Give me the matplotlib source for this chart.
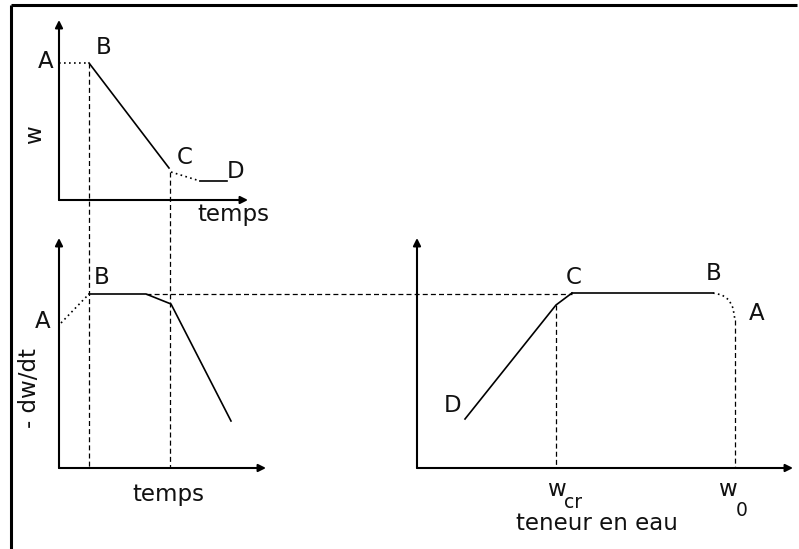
import numpy as np
import matplotlib
matplotlib.use('Agg')
from matplotlib import pyplot as plt

# schematic drying curves, coordinates in image pixels (x right, y down)
# top panel : w = f(temps)
w_AB_x = [59, 89]
w_AB_y = [63, 63]
w_BC_x = [89, 169]
w_BC_y = [63, 168]
w_CD_x = [171, 200]
w_CD_y = [172, 181]
w_D_x = [200, 227]
w_D_y = [181, 181]

# bottom left : -dw/dt = f(temps)
r_AB_x = [61, 89]
r_AB_y = [323, 294]
r_BD_x = [89, 146, 171, 231]
r_BD_y = [294, 294, 304, 421]

# right : -dw/dt = f(teneur en eau)
e_DC_x = [465, 556, 572]
e_DC_y = [419, 305, 293]
e_CB_x = [572, 713]
e_CB_y = [293, 293]
e_BA_x = [713, 722, 729, 733, 735]
e_BA_y = [293, 295, 300, 308, 320]

# dashed guide lines (x0, y0, x1, y1)
guides = [(89, 63, 89, 468), (170, 172, 170, 468), (146, 294, 572, 294),
          (556, 305, 556, 468), (735, 320, 735, 468)]

# axes (origin x, origin y, x tip, y tip)
axes_list = [(59, 200, 248, 20), (59, 468, 266, 238), (417, 468, 793, 238)]

labels = [("A", 46, 62), ("B", 104, 47), ("C", 185, 157), ("D", 236, 172),
          ("B", 102, 277), ("A", 43, 321),
          ("C", 574, 278), ("B", 714, 273), ("A", 757, 313), ("D", 453, 405)]

fs = 16.5
ink = '#111111'
fig = plt.figure(figsize=(7.99, 5.49), dpi=100)
ax = fig.add_axes([0, 0, 1, 1])
ax.set_xlim(0, 799)
ax.set_ylim(549, 0)
ax.axis('off')

# frame (top and left only)
ax.plot([11, 797], [5, 5], color='black', lw=2.2, solid_capstyle='butt')
ax.plot([11, 11], [5, 549], color='black', lw=2.2, solid_capstyle='butt')

for x0, y0, xt, yt in axes_list:
    ax.annotate('', xy=(xt, y0), xytext=(x0, y0),
                arrowprops=dict(arrowstyle='-|>', color='black', lw=1.5,
                                mutation_scale=11, shrinkA=0, shrinkB=0))
    ax.annotate('', xy=(x0, yt), xytext=(x0, y0),
                arrowprops=dict(arrowstyle='-|>', color='black', lw=1.5,
                                mutation_scale=11, shrinkA=0, shrinkB=0))

for x0, y0, x1, y1 in guides:
    ax.plot([x0, x1], [y0, y1], color='black', lw=0.9, dashes=(4, 2.5))

solid = dict(color='black', lw=1.2)
dotted = dict(color='black', lw=1.2, dashes=(1, 2))
ax.plot(w_AB_x, w_AB_y, **dotted)
ax.plot(w_BC_x, w_BC_y, **solid)
ax.plot(w_CD_x, w_CD_y, **dotted)
ax.plot(w_D_x, w_D_y, **solid)
ax.plot(r_AB_x, r_AB_y, **dotted)
ax.plot(r_BD_x, r_BD_y, **solid)
ax.plot(e_DC_x, e_DC_y, **solid)
ax.plot(e_CB_x, e_CB_y, **solid)
ax.plot(e_BA_x, e_BA_y, **dotted)

for t, x, y in labels:
    ax.text(x, y, t, fontsize=fs, ha='center', va='center', color=ink)

ax.text(35, 135, "w", fontsize=fs, rotation=90, ha='center', va='center', color=ink)
ax.text(30, 388, "- dw/dt", fontsize=fs, rotation=90, ha='center', va='center', color=ink)
ax.text(233, 214, "temps", fontsize=fs, ha='center', va='center', color=ink)
ax.text(168, 494, "temps", fontsize=fs, ha='center', va='center', color=ink)
ax.text(556, 489, "w", fontsize=fs, ha='center', va='center', color=ink)
ax.text(573, 502, "cr", fontsize=fs - 3, ha='center', va='center', color=ink)
ax.text(727, 489, "w", fontsize=fs, ha='center', va='center', color=ink)
ax.text(742, 511, "0", fontsize=fs - 3, ha='center', va='center', color=ink)
ax.text(597, 524, "teneur en eau", fontsize=fs, ha='center', va='center', color=ink)

fig.savefig('out.png', dpi=100)
